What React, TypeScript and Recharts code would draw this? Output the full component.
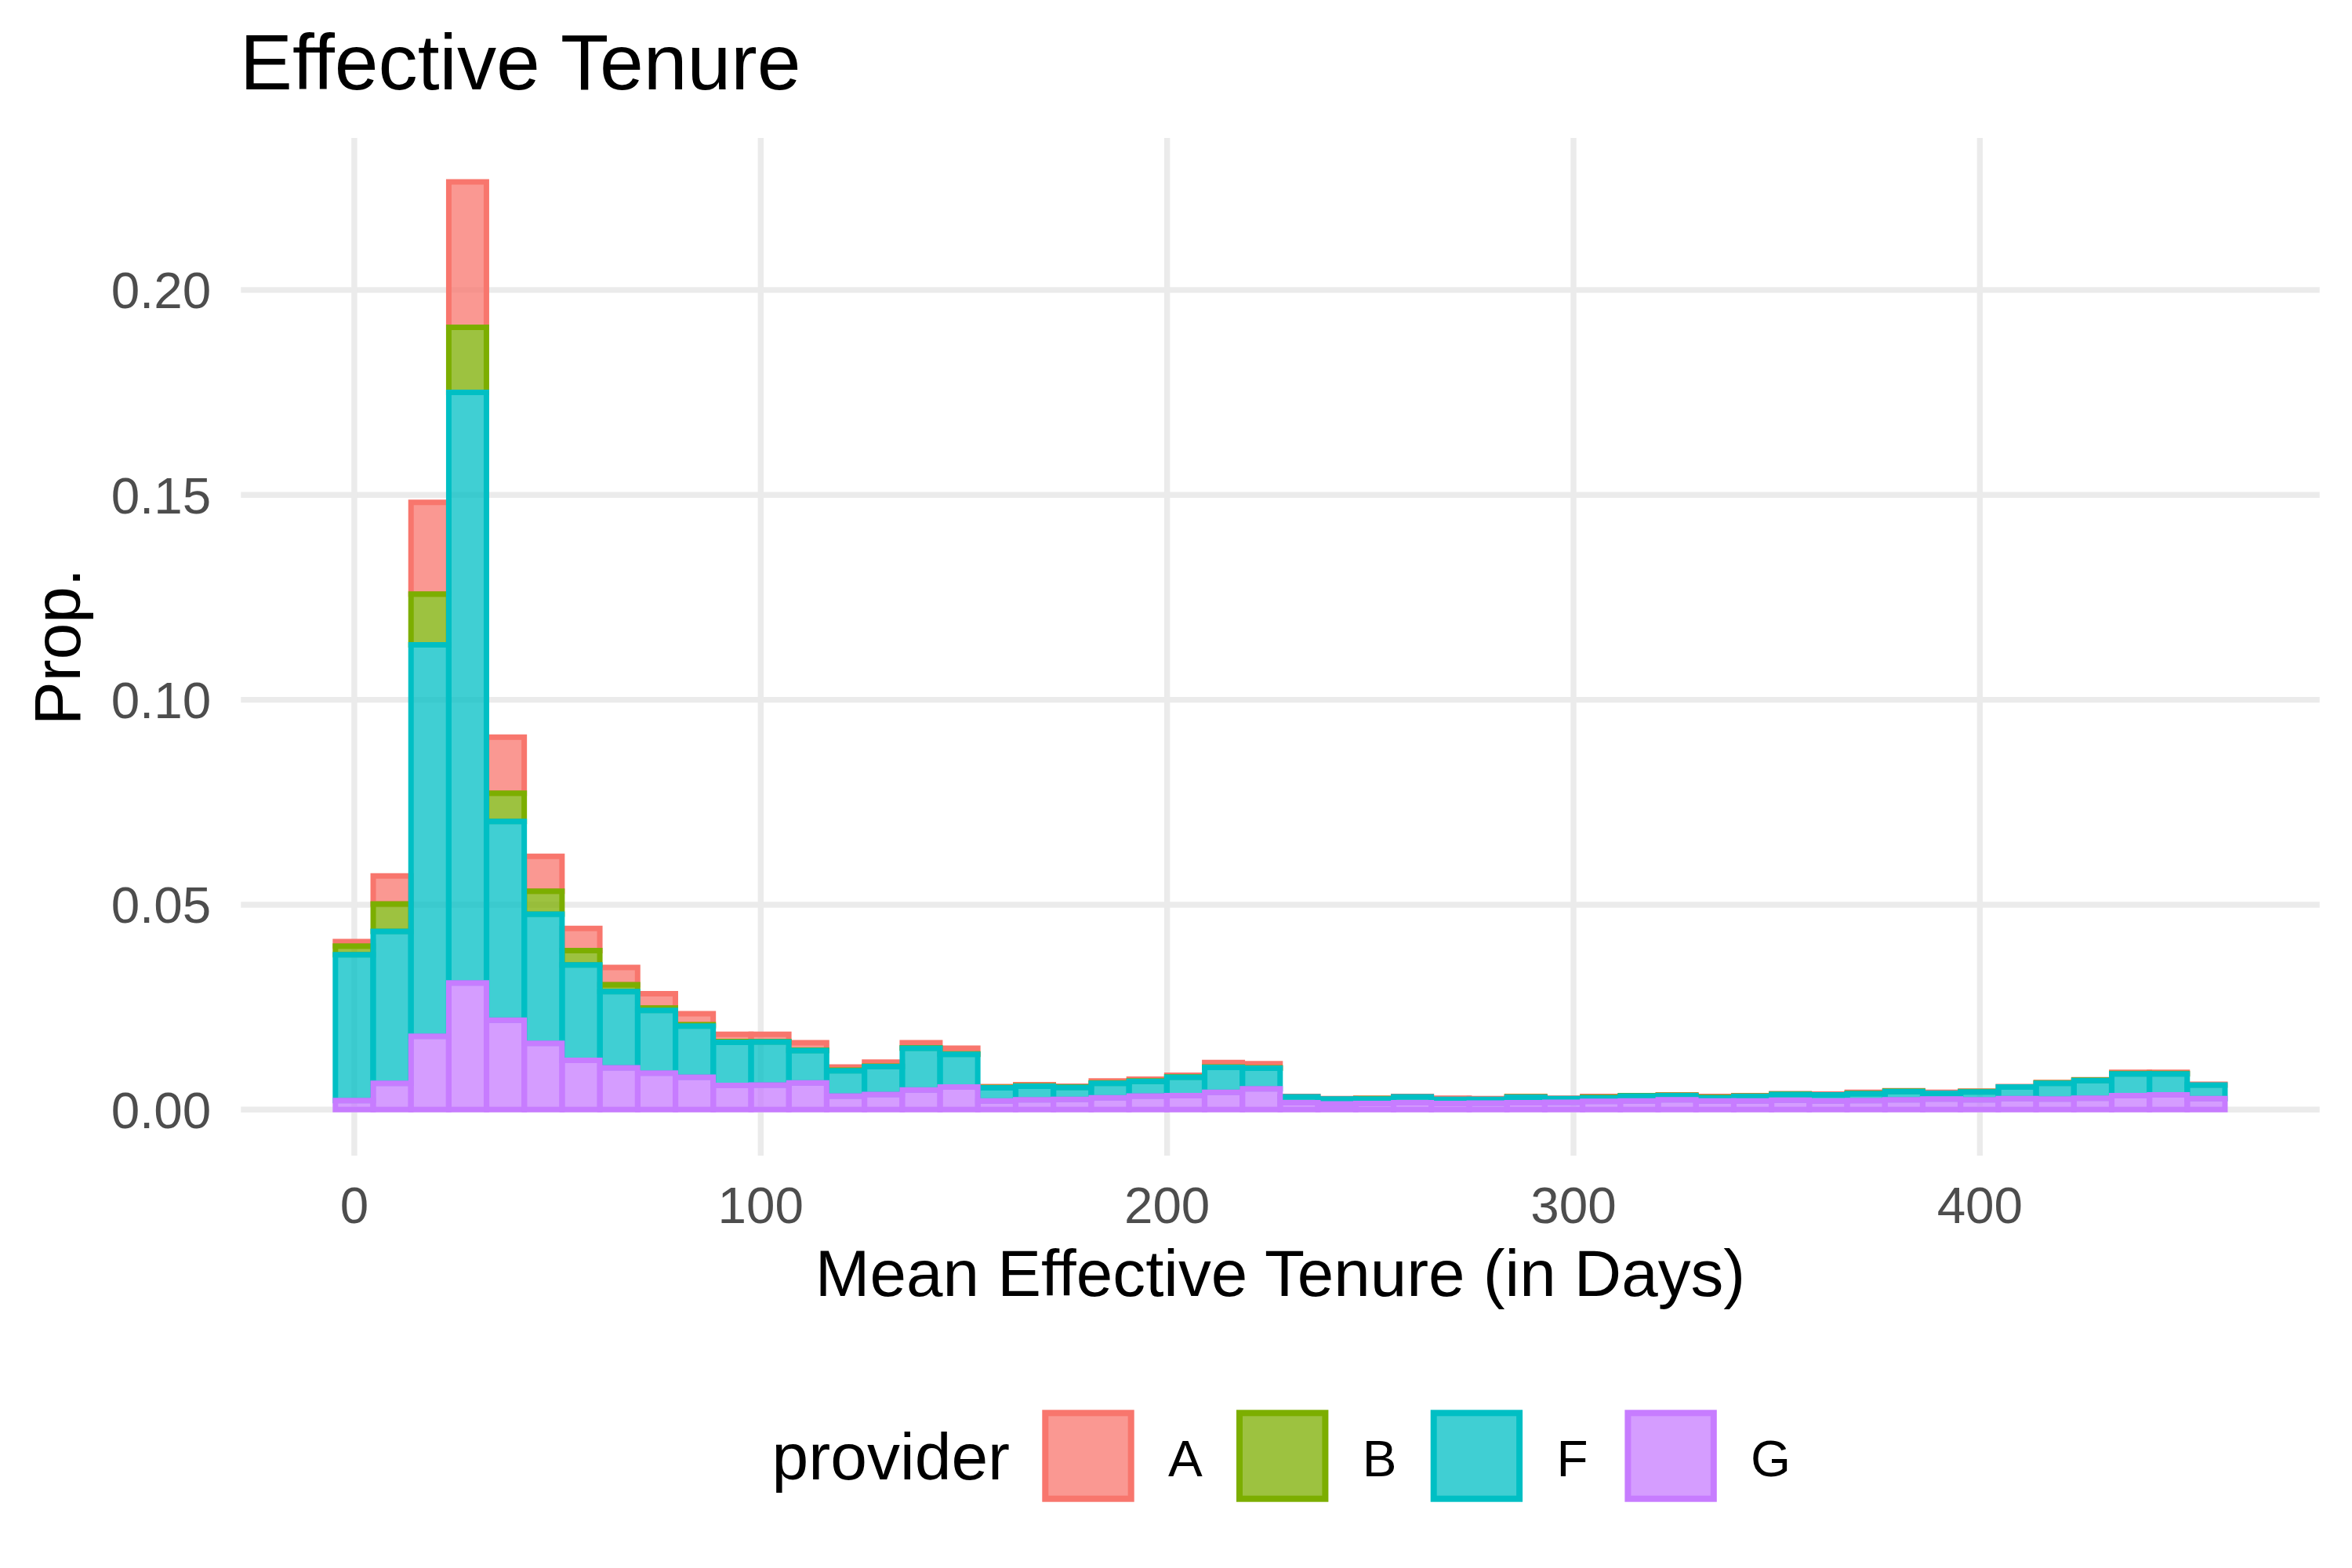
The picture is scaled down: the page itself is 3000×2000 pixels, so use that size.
import React from "react";
import { BarChart, Bar, XAxis, YAxis, CartesianGrid } from "recharts";

// Bin centres (days), bin width 9.3
const binCenters = [
  0, 9.3, 18.6, 27.9, 37.2, 46.5, 55.8, 65.1, 74.4, 83.7,
  93.0, 102.3, 111.6, 120.9, 130.2, 139.5, 148.8, 158.1, 167.4, 176.7,
  186.0, 195.3, 204.6, 213.9, 223.2, 232.5, 241.8, 251.1, 260.4, 269.7,
  279.0, 288.3, 297.6, 306.9, 316.2, 325.5, 334.8, 344.1, 353.4, 362.7,
  372.0, 381.3, 390.6, 399.9, 409.2, 418.5, 427.8, 437.1, 446.4, 455.7,
];

const provA = [
  0.0011, 0.0068, 0.0224, 0.0355, 0.0137, 0.0085, 0.0054, 0.0042, 0.0035, 0.0027,
  0.0018, 0.0018, 0.0018, 0.0008, 0.001, 0.0012, 0.0014, 0.0002, 0.0003, 0.0002,
  0.0005, 0.0004, 0.0004, 0.0011, 0.001, 0.0001, 0.0001, 0.0001, 0.0001, 0.0003,
  0.0002, 0.0001, 0.0001, 0.0002, 0.0, 0.0001, 0.0002, 0.0001, 0.0001, 0.0002,
  0.0002, 0.0001, 0.0002, 0.0001, 0.0001, 0.0001, 0.0001, 0.0003, 0.0003, 0.0002,
];

const provB = [
  0.0021, 0.0067, 0.0124, 0.0159, 0.0069, 0.0056, 0.0035, 0.0017, 0.0006, 0.0003,
  0.0002, 0.0001, 0.0001, 0.0001, 0.0001, 0.0001, 0.0001, 0.0001, 0.0001, 0.0001,
  0.0001, 0.0001, 0.0001, 0.0001, 0.0001, 0.0, 0.0, 0.0001, 0.0, 0.0,
  0.0, 0.0001, 0.0, 0.0001, 0.0001, 0.0001, 0.0001, 0.0001, 0.0001, 0.0,
  0.0001, 0.0001, 0.0, 0.0001, 0.0, 0.0001, 0.0001, 0.0001, 0.0001, 0.0,
];

const provF = [
  0.0356, 0.0371, 0.0955, 0.1441, 0.0485, 0.0315, 0.0233, 0.0186, 0.0153, 0.0125,
  0.0105, 0.0105, 0.0079, 0.0062, 0.0068, 0.0102, 0.008, 0.0032, 0.0033, 0.0029,
  0.0035, 0.0036, 0.0045, 0.0061, 0.005, 0.0014, 0.0012, 0.0011, 0.0014, 0.001,
  0.0009, 0.0013, 0.0009, 0.0009, 0.0012, 0.001, 0.0008, 0.0011, 0.0014, 0.0015,
  0.0017, 0.002, 0.0014, 0.0019, 0.0028, 0.0038, 0.0043, 0.0053, 0.0051, 0.0033,
];

const provG = [
  0.0022, 0.0064, 0.0179, 0.0309, 0.0218, 0.0162, 0.012, 0.0102, 0.0089, 0.0079,
  0.0059, 0.006, 0.0065, 0.0033, 0.0037, 0.0048, 0.0055, 0.0021, 0.0024, 0.0025,
  0.0029, 0.0033, 0.0034, 0.0042, 0.0051, 0.0017, 0.0014, 0.0015, 0.0017, 0.0015,
  0.0016, 0.0017, 0.0018, 0.002, 0.0021, 0.0024, 0.0021, 0.0021, 0.0023, 0.0021,
  0.0022, 0.0024, 0.0026, 0.0024, 0.0027, 0.0026, 0.0028, 0.0034, 0.0036, 0.0027,
];

const xTicks = [0, 100, 200, 300, 400];
const yTicks = [0, 0.05, 0.1, 0.15, 0.2];

const providers = ["A", "B", "F", "G"];
const colors: Record<string, string> = {
  A: "#F8766D",
  B: "#7CAE00",
  F: "#00BFC4",
  G: "#C77CFF",
};

const data = binCenters.map((x, i) => ({
  x,
  A: provA[i],
  B: provB[i],
  F: provF[i],
  G: provG[i],
}));

const FONT = "'Liberation Sans', Arial, Helvetica, sans-serif";

export default function App() {
  const keyLefts = [1329.3, 1577, 1824.7, 2072.4];
  return (
    <div style={{ position: "absolute", left: 0, top: 0, width: 3000, height: 2000, background: "#fff" }}>
      <BarChart
        width={3000}
        height={2000}
        data={data}
        margin={{ top: 176, right: 41.3, bottom: 426, left: 157.3 }}
        barCategoryGap={0}
        barGap={0}
        reverseStackOrder
      >
        <CartesianGrid
          stroke="#EBEBEB"
          strokeWidth={7.4}
          vertical
          horizontal
          syncWithTicks
        />
        <XAxis
          type="number"
          dataKey="x"
          domain={[-27.9, 483.6]}
          allowDataOverflow
          ticks={xTicks}
          interval={0}
          axisLine={false}
          tickLine={false}
          tickSize={0}
          tickMargin={39}
          height={100}
          tick={{ fontSize: 65.6, fill: "#4D4D4D", fontFamily: FONT }}
        />
        <YAxis
          type="number"
          domain={[-0.01123, 0.2371]}
          allowDataOverflow
          ticks={yTicks}
          interval={0}
          axisLine={false}
          tickLine={false}
          tickSize={0}
          tickMargin={38}
          width={150}
          tickFormatter={(v: number) => v.toFixed(2)}
          tick={{ fontSize: 65.6, fill: "#4D4D4D", fontFamily: FONT }}
        />
        {providers.map((p) => (
          <Bar
            key={p}
            dataKey={p}
            stackId="s"
            fill={colors[p]}
            fillOpacity={0.75}
            stroke={colors[p]}
            strokeWidth={7}
            isAnimationActive={false}
          />
        ))}
      </BarChart>
      <svg
        width={3000}
        height={2000}
        style={{ position: "absolute", left: 0, top: 0, pointerEvents: "none" }}
      >
        <text x={306} y={114} fontSize={100.3} fontFamily={FONT} fill="#000">
          Effective Tenure
        </text>
        <text x={1633} y={1653} fontSize={83.6} fontFamily={FONT} fill="#000" textAnchor="middle">
          Mean Effective Tenure (in Days)
        </text>
        <text
          x={102}
          y={825}
          fontSize={83.6}
          fontFamily={FONT}
          fill="#000"
          textAnchor="middle"
          transform="rotate(-90 102 825)"
        >
          Prop.
        </text>
        <text x={984.6} y={1887.3} fontSize={84} fontFamily={FONT} fill="#000">
          provider
        </text>
        {providers.map((p, i) => (
          <g key={p}>
            <rect
              x={keyLefts[i] + 4}
              y={1802.3}
              width={109.4}
              height={109.4}
              fill={colors[p]}
              fillOpacity={0.75}
              stroke={colors[p]}
              strokeWidth={8}
            />
            <text x={keyLefts[i] + 160.7} y={1882.6} fontSize={65.6} fontFamily={FONT} fill="#000">
              {p}
            </text>
          </g>
        ))}
      </svg>
    </div>
  );
}
